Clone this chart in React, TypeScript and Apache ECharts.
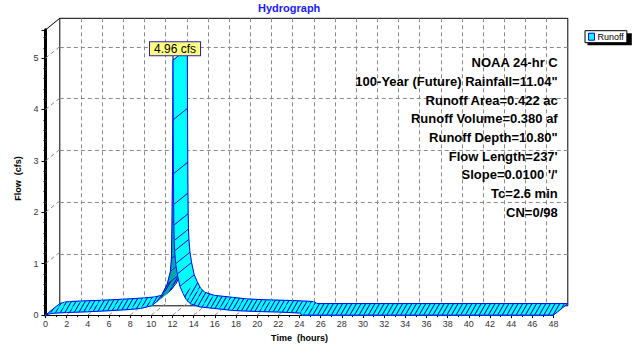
import React, { useEffect, useRef } from 'react';
import * as echarts from 'echarts';

// ---- data ----
const TIME_H = [0, 0.5, 1, 2, 4, 6, 8, 9, 10, 10.5, 11, 11.5, 11.8, 11.9, 11.95, 12.0, 12.05, 12.07, 12.09, 12.11, 12.13, 12.16, 12.2, 12.3, 12.45, 12.7, 13.0, 13.3, 13.7, 14.6, 16.4, 17.7, 20, 22, 24, 24.3, 48];
const FLOW_CFS = [0, 0.03, 0.04, 0.05, 0.065, 0.085, 0.11, 0.13, 0.18, 0.26, 0.4, 0.6, 0.85, 1.1, 1.8, 2.8, 4.96, 3.8, 2.75, 2.15, 1.75, 1.45, 1.25, 1.0, 0.8, 0.56, 0.42, 0.3, 0.22, 0.16, 0.12, 0.09, 0.07, 0.06, 0.04, 0, 0];
const X_TICKS = [2, 4, 6, 8, 10, 12, 14, 16, 18, 20, 22, 24, 26, 28, 30, 32, 34, 36, 38, 40, 42, 44, 46];
const Y_TICKS = [1, 2, 3, 4, 5];
const X_MAX = 48;
const Y_MAX = 5.55;
const SERIES_NAME = 'Runoff';
const TITLE = 'Hydrograph';
const X_NAME = 'Time  (hours)';
const Y_NAME = 'Flow  (cfs)';
const UNIT = 'cfs';
const NOTES = [
  'NOAA 24-hr C',
  '100-Year (Future) Rainfall=11.04"',
  'Runoff Area=0.422 ac',
  'Runoff Volume=0.380 af',
  'Runoff Depth=10.80"',
  "Flow Length=237'",
  "Slope=0.0100 '/'",
  'Tc=2.6 min',
  'CN=0/98',
];

// ---- layout / style ----
const DX = 14.3;
const DY = -11.5;
const FONT = '"Liberation Sans", Arial, Helvetica, sans-serif';
const CYAN = '#00ffff';
const TEAL = '#00a8a8';
const EDGE = '#0000ff';
const HATCH = {
  symbol: 'rect',
  symbolSize: 1,
  color: '#0000b4',
  dashArrayX: [10, 0],
  dashArrayY: [1, 3],
  rotation: -Math.PI / 3,
};
const GRID_LINE = { color: '#8a8a8a', width: 1, type: [4, 3] as any };

const segments = TIME_H.slice(0, -1).map((t, i) => [t, FLOW_CFS[i], TIME_H[i + 1], FLOW_CFS[i + 1]]);
const peak = Math.max(...FLOW_CFS);

const wallData: number[][] = [
  ...Y_TICKS.map((v) => [0, v, 0]),
  ...X_TICKS.map((t) => [t, 0, 0]),
  [0, Y_MAX, 1],
];

function ribbonItem(params: any, api: any) {
  const t0 = api.value(0), v0 = api.value(1), t1 = api.value(2), v1 = api.value(3);
  const f0 = api.coord([t0, v0]);
  const f1 = api.coord([t1, v1]);
  const b0 = [f0[0] + DX, f0[1] + DY];
  const b1 = [f1[0] + DX, f1[1] + DY];
  const dx = f1[0] - f0[0];
  const dy = f1[1] - f0[1];
  const cross = dx * DY - dy * DX;
  const top = cross <= 0;
  const steep = Math.abs(dy) > 2 * Math.abs(dx);
  const fill = top ? CYAN : TEAL;
  const z2 = params.dataIndex * 3;
  const edge = (a: number[], b: number[], w = 1) => ({
    type: 'line',
    z2: z2 + 1,
    shape: { x1: a[0], y1: a[1], x2: b[0], y2: b[1] },
    style: { stroke: EDGE, lineWidth: w },
  });
  const children: any[] = [
    {
      type: 'polygon',
      z2,
      shape: { points: [f0, f1, b1, b0] },
      style: steep
        ? { fill, stroke: fill, lineWidth: 0.5 }
        : { fill, stroke: fill, lineWidth: 0.5, decal: HATCH },
    },
    edge(f0, f1),
    edge(b0, b1),
  ];
  if (params.dataIndex === 0 || steep) children.push(edge(f0, b0));
  if (params.dataIndex === params.dataInsideLength - 1) children.push(edge(f1, b1));
  if (v0 === peak) {
    children.push({
      type: 'line',
      z2: 1000,
      shape: { x1: f0[0], y1: f0[1] - 5, x2: f0[0], y2: f0[1] },
      style: { stroke: '#000', lineWidth: 1 },
    });
    children.push({
      type: 'text',
      z2: 1001,
      x: f0[0] + 2,
      y: f0[1] - 5,
      style: {
        text: `${peak.toFixed(2)} ${UNIT}`,
        align: 'center',
        verticalAlign: 'bottom',
        font: `12px ${FONT}`,
        fill: '#000',
        backgroundColor: '#ffff80',
        borderColor: '#2020c0',
        borderWidth: 1,
        lineHeight: 13,
        padding: [0, 4, 0, 4],
      },
    });
  }
  return { type: 'group', children };
}

function wallItem(params: any, api: any) {
  const p = api.coord([api.value(0), api.value(1)]);
  const solid = api.value(2) === 1;
  return {
    type: 'line',
    shape: { x1: p[0], y1: p[1], x2: p[0] + DX, y2: p[1] + DY },
    style: solid
      ? { stroke: '#000', lineWidth: 1 }
      : { stroke: GRID_LINE.color, lineWidth: 1, lineDash: [4, 3] },
  };
}

const FRONT = { left: 45.5, right: 88.5, top: 29.8, bottom: 29.7 };
const BACK = {
  left: FRONT.left + DX,
  right: FRONT.right - DX,
  top: FRONT.top + DY,
  bottom: FRONT.bottom - DY,
};

const option: any = {
  animation: false,
  backgroundColor: '#ffffff',
  textStyle: { fontFamily: FONT },
  title: {
    text: TITLE,
    left: 258,
    top: 2,
    padding: 0,
    textStyle: { color: '#1a1aff', fontSize: 11, fontWeight: 'bold', fontFamily: FONT },
  },
  legend: {
    data: [{ name: SERIES_NAME, icon: 'rect' }],
    left: 585,
    top: 30.7,
    padding: [1.5, 3, 1.5, 3],
    itemWidth: 6,
    itemHeight: 7,
    itemGap: 0,
    backgroundColor: '#ffffff',
    borderColor: '#000000',
    borderWidth: 1,
    borderRadius: 0,
    itemStyle: { color: CYAN, borderColor: EDGE, borderWidth: 1 },
    textStyle: { fontSize: 9, color: '#000', lineHeight: 9, fontFamily: FONT, padding: [0, 0, 0, -2] },
    z: 5,
  },
  graphic: [
    {
      type: 'rect',
      z: 1,
      shape: { x: 587.5, y: 33.2, width: 44.3, height: 12 },
      style: { fill: '#000' },
    },
    {
      type: 'text',
      z: 10,
      x: 557.7,
      y: 53.4,
      style: {
        text: NOTES.join('\n'),
        align: 'right',
        verticalAlign: 'top',
        font: `bold 13px ${FONT}`,
        lineHeight: 18.7,
        fill: '#000',
      },
    },
  ],
  grid: [
    { ...FRONT, containLabel: false },
    { ...BACK, containLabel: false, show: true, borderColor: '#000', borderWidth: 1, backgroundColor: 'transparent' },
  ],
  xAxis: [
    {
      type: 'value',
      gridIndex: 0,
      min: 0,
      max: X_MAX,
      interval: 2,
      name: X_NAME,
      nameLocation: 'middle',
      nameGap: 16,
      nameTextStyle: { fontSize: 9, fontWeight: 'bold', color: '#000', fontFamily: FONT },
      axisLine: { show: true, onZero: false, lineStyle: { color: '#000', width: 1 } },
      axisTick: { show: true, length: 3, lineStyle: { color: '#000' } },
      minorTick: { show: true, splitNumber: 2, length: 2, lineStyle: { color: '#000' } },
      axisLabel: { fontSize: 9, color: '#333', margin: 4, fontFamily: FONT },
      splitLine: { show: false },
    },
    {
      type: 'value',
      gridIndex: 1,
      min: 0,
      max: X_MAX,
      interval: 2,
      axisLine: { show: false },
      axisTick: { show: false },
      axisLabel: { show: false },
      splitLine: { show: true, showMinLine: false, showMaxLine: false, lineStyle: GRID_LINE },
    },
  ],
  yAxis: [
    {
      type: 'value',
      gridIndex: 0,
      min: 0,
      max: Y_MAX,
      interval: 1,
      name: Y_NAME,
      nameLocation: 'middle',
      nameGap: 22,
      nameTextStyle: { fontSize: 9, fontWeight: 'bold', color: '#000', fontFamily: FONT, padding: [0, 12, 0, 0] },
      axisLine: { show: true, onZero: false, lineStyle: { color: '#000', width: 3 } },
      axisTick: { show: true, length: 4, lineStyle: { color: '#000' } },
      minorTick: { show: true, splitNumber: 5, length: 2, lineStyle: { color: '#000' } },
      axisLabel: {
        fontSize: 9,
        color: '#333',
        margin: 7,
        fontFamily: FONT,
        formatter: (v: number) => (Number.isInteger(v) ? String(v) : ''),
      },
      splitLine: { show: false },
    },
    {
      type: 'value',
      gridIndex: 1,
      min: 0,
      max: Y_MAX,
      interval: 1,
      axisLine: { show: false },
      axisTick: { show: false },
      axisLabel: { show: false },
      splitLine: { show: true, showMinLine: false, showMaxLine: false, lineStyle: GRID_LINE },
    },
  ],
  series: [
    {
      type: 'custom',
      name: 'walls',
      xAxisIndex: 0,
      yAxisIndex: 0,
      z: 1,
      clip: false,
      silent: true,
      encode: { x: 0, y: 1 },
      data: wallData,
      renderItem: wallItem,
    },
    {
      type: 'custom',
      name: SERIES_NAME,
      xAxisIndex: 0,
      yAxisIndex: 0,
      z: 3,
      clip: false,
      itemStyle: { color: CYAN, borderColor: EDGE, borderWidth: 1 },
      encode: { x: [0, 2], y: [1, 3] },
      data: segments,
      renderItem: ribbonItem,
    },
  ],
};

export default function App() {
  const ref = useRef<HTMLDivElement>(null);
  useEffect(() => {
    const chart = echarts.init(ref.current!, null, { renderer: 'svg' });
    chart.setOption(option);
    return () => chart.dispose();
  }, []);
  return (
    <div
      ref={ref}
      style={{ position: 'absolute', left: 0, top: 0, width: 642, height: 347, background: '#fff' }}
    />
  );
}
